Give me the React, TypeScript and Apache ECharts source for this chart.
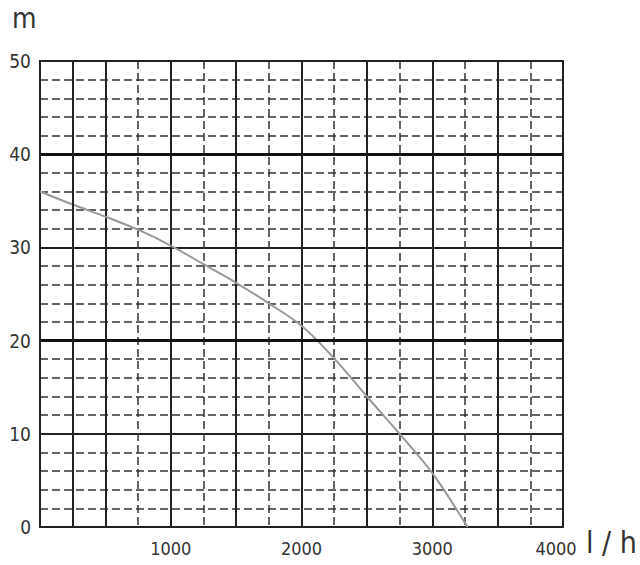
import React, { useEffect, useRef } from "react";
import * as echarts from "echarts";

// flow (l/h) and head (m)
const flow = [0, 250, 500, 750, 1000, 1250, 1500, 1750, 2000, 2250, 2500, 2750, 3000, 3270];
const head = [36, 34.6, 33.3, 31.9, 30.2, 28.2, 26.2, 24, 21.6, 18.1, 14, 10, 5.8, 0];
const thickY = [20, 40];
const extraSolidX = [250];

const FONT = "'DejaVu Sans Condensed', 'Liberation Sans Narrow', sans-serif";

const App = () => {
  const chartRef = useRef<HTMLDivElement>(null);

  useEffect(() => {
    document.body.style.margin = "0";
    // @ts-ignore
    const chart = echarts.init(chartRef.current, null, { renderer: "svg" });

    const dashed = { type: [8, 4], color: "#333", width: 1.5 };
    const solid = { type: "solid", color: "#222", width: 2 };

    const options = {
      animation: false,
      grid: {
        left: 40,
        right: 77,
        top: 61,
        bottom: 38,
        show: true,
        borderColor: "#222",
        borderWidth: 2,
        z: 3,
      },
      xAxis: [
        {
          type: "value",
          min: 0,
          max: 4000,
          interval: 250,
          position: "top",
          axisLine: { show: false },
          axisTick: { show: false },
          axisLabel: { show: false },
          splitLine: { lineStyle: dashed },
        },
        {
          type: "value",
          min: 0,
          max: 4000,
          interval: 500,
          position: "bottom",
          axisLine: { show: false },
          axisTick: { show: false },
          axisLabel: {
            showMinLabel: false,
            showMaxLabel: true,
            margin: 12,
            color: "#333",
            fontSize: 18,
            fontFamily: FONT,
            formatter: (v: number) => {
              if (v === 4000) return "{last|4000}";
              return v % 1000 === 0 && v > 0 ? String(v) : "";
            },
            rich: {
              last: { fontSize: 18, fontFamily: FONT, color: "#333", padding: [0, 14, 0, 0] },
            },
          },
          splitLine: { lineStyle: solid },
        },
      ],
      yAxis: [
        {
          type: "value",
          min: 0,
          max: 50,
          interval: 2,
          position: "right",
          axisLine: { show: false },
          axisTick: { show: false },
          axisLabel: { show: false },
          splitLine: { lineStyle: dashed },
        },
        {
          type: "value",
          min: 0,
          max: 50,
          interval: 10,
          position: "left",
          axisLine: { show: false },
          axisTick: { show: false },
          axisLabel: {
            margin: 9,
            color: "#333",
            fontSize: 19,
            fontFamily: FONT,
          },
          splitLine: { lineStyle: solid },
        },
      ],
      graphic: [
        {
          type: "text",
          left: 12,
          top: 4,
          style: { text: "m", fontSize: 28, fontFamily: FONT, fill: "#333" },
        },
        {
          type: "text",
          left: 586,
          top: 527,
          style: { text: "l / h", fontSize: 30, fontFamily: FONT, fill: "#333" },
        },
      ],
      series: [
        {
          type: "line",
          xAxisIndex: 0,
          yAxisIndex: 0,
          smooth: 0.3,
          showSymbol: false,
          lineStyle: { color: "#999", width: 2 },
          data: flow.map((f, i) => [f, head[i]]),
          z: 4,
          markLine: {
            silent: true,
            symbol: "none",
            label: { show: false },
            data: [
              ...thickY.map((y) => ({ yAxis: y, lineStyle: { type: "solid", color: "#111", width: 3 } })),
              ...extraSolidX.map((x) => ({ xAxis: x, lineStyle: { type: "solid", color: "#222", width: 2 } })),
            ],
          },
        },
      ],
    };

    chart.setOption(options);

    return () => {
      chart.dispose();
    };
  }, []);

  return <div ref={chartRef} style={{ width: "640px", height: "565px" }} />;
};

export default App;
